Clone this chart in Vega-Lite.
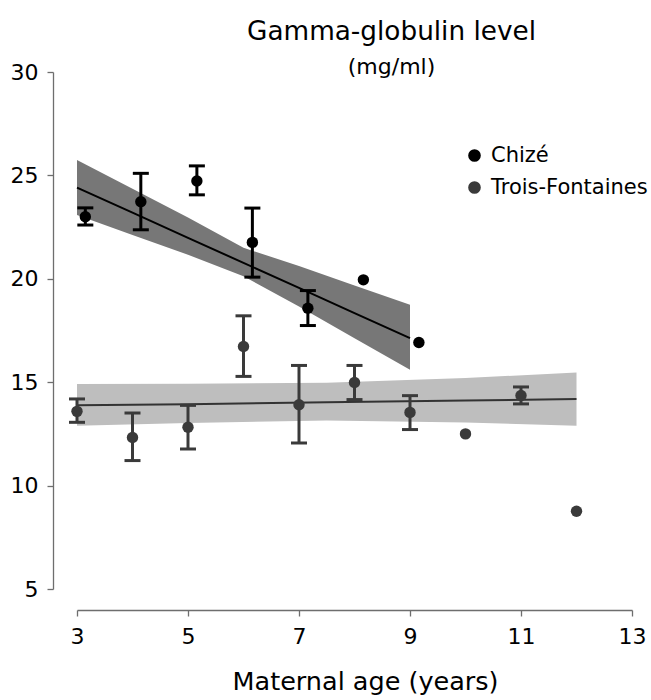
{
  "$schema": "https://vega.github.io/schema/vega-lite/v6.json",
  "width": 555,
  "height": 517,
  "autosize": {"type": "none"},
  "padding": {"left": 77, "top": 72, "right": 19, "bottom": 111},
  "background": "white",
  "config": {
    "font": "DejaVu Sans",
    "view": {"stroke": null},
    "axis": {"grid": false, "domainColor": "#6e6e6e", "tickColor": "#6e6e6e", "labelColor": "#000000", "titleColor": "#000000", "labelFontSize": 22, "domainWidth": 1.3, "tickWidth": 1.3}
  },
  "title": {
    "text": "Gamma-globulin level",
    "subtitle": "(mg/ml)",
    "fontSize": 26.3,
    "fontWeight": "normal",
    "subtitleFontSize": 22,
    "color": "#000000",
    "subtitleColor": "#000000",
    "anchor": "middle",
    "frame": "group",
    "dx": 37,
    "offset": -17,
    "subtitlePadding": 12
  },
  "datasets": {
    "pts": [
      {"site": "Chizé", "age": 3.15, "mean": 23.0, "lo": 22.6, "hi": 23.43},
      {"site": "Chizé", "age": 4.15, "mean": 23.73, "lo": 22.37, "hi": 25.1},
      {"site": "Chizé", "age": 5.16, "mean": 24.73, "lo": 24.06, "hi": 25.46},
      {"site": "Chizé", "age": 6.16, "mean": 21.76, "lo": 20.08, "hi": 23.42},
      {"site": "Chizé", "age": 7.16, "mean": 18.58, "lo": 17.74, "hi": 19.43},
      {"site": "Chizé", "age": 8.16, "mean": 19.95, "lo": null, "hi": null},
      {"site": "Chizé", "age": 9.16, "mean": 16.92, "lo": null, "hi": null},
      {"site": "Trois-Fontaines", "age": 3.0, "mean": 13.59, "lo": 13.06, "hi": 14.19},
      {"site": "Trois-Fontaines", "age": 4.0, "mean": 12.33, "lo": 11.21, "hi": 13.51},
      {"site": "Trois-Fontaines", "age": 5.0, "mean": 12.82, "lo": 11.77, "hi": 13.88},
      {"site": "Trois-Fontaines", "age": 6.0, "mean": 16.73, "lo": 15.28, "hi": 18.21},
      {"site": "Trois-Fontaines", "age": 7.0, "mean": 13.91, "lo": 12.06, "hi": 15.81},
      {"site": "Trois-Fontaines", "age": 8.0, "mean": 14.99, "lo": 14.16, "hi": 15.81},
      {"site": "Trois-Fontaines", "age": 9.0, "mean": 13.54, "lo": 12.71, "hi": 14.35},
      {"site": "Trois-Fontaines", "age": 10.0, "mean": 12.5, "lo": null, "hi": null},
      {"site": "Trois-Fontaines", "age": 11.0, "mean": 14.36, "lo": 13.95, "hi": 14.77},
      {"site": "Trois-Fontaines", "age": 12.0, "mean": 8.76, "lo": null, "hi": null}
    ],
    "fit": [
      {"site": "Chizé", "age": 3, "fit": 24.41, "lower": 23.09, "upper": 25.75},
      {"site": "Chizé", "age": 4, "fit": 23.2, "lower": 22.12, "upper": 24.35},
      {"site": "Chizé", "age": 5, "fit": 21.98, "lower": 21.16, "upper": 22.96},
      {"site": "Chizé", "age": 6, "fit": 20.77, "lower": 20.12, "upper": 21.5},
      {"site": "Chizé", "age": 7, "fit": 19.56, "lower": 18.66, "upper": 20.62},
      {"site": "Chizé", "age": 8, "fit": 18.34, "lower": 17.13, "upper": 19.68},
      {"site": "Chizé", "age": 9, "fit": 17.13, "lower": 15.6, "upper": 18.74},
      {"site": "Trois-Fontaines", "age": 3, "fit": 13.88, "lower": 12.9, "upper": 14.91},
      {"site": "Trois-Fontaines", "age": 5, "fit": 13.93, "lower": 13.03, "upper": 14.93},
      {"site": "Trois-Fontaines", "age": 7.5, "fit": 14.03, "lower": 13.15, "upper": 14.97},
      {"site": "Trois-Fontaines", "age": 10, "fit": 14.11, "lower": 13.05, "upper": 15.2},
      {"site": "Trois-Fontaines", "age": 12, "fit": 14.19, "lower": 12.9, "upper": 15.47}
    ]
  },
  "encoding": {
    "x": {
      "field": "age", "type": "quantitative",
      "scale": {"domain": [3, 13], "nice": false, "zero": false},
      "axis": {"values": [3, 5, 7, 9, 11, 13], "offset": 21, "tickSize": 6, "labelPadding": 10, "labelFlush": false, "labelOverlap": false, "labelBound": false, "title": "Maternal age (years)", "titleFontSize": 25.5, "titleFontWeight": "normal", "titlePadding": 22, "titleX": 288, "titleAlign": "center"}
    }
  },
  "layer": [
    {
      "data": {"name": "fit"},
      "transform": [{"filter": "datum.site === 'Trois-Fontaines'"}],
      "mark": {"type": "area", "color": "#bebebe", "opacity": 1},
      "encoding": {
        "y": {"field": "lower", "type": "quantitative", "scale": {"domain": [5, 30], "nice": false, "zero": false}, "axis": {"values": [5, 10, 15, 20, 25, 30], "offset": 24, "tickSize": 6, "labelPadding": 9, "title": null}},
        "y2": {"field": "upper"}
      }
    },
    {
      "data": {"name": "fit"},
      "transform": [{"filter": "datum.site === 'Chizé'"}],
      "mark": {"type": "area", "color": "#777777", "opacity": 1},
      "encoding": {
        "y": {"field": "lower", "type": "quantitative"},
        "y2": {"field": "upper"}
      }
    },
    {
      "data": {"name": "fit"},
      "transform": [{"filter": "datum.site === 'Trois-Fontaines'"}],
      "mark": {"type": "line", "color": "#333333", "strokeWidth": 2},
      "encoding": {"y": {"field": "fit", "type": "quantitative"}}
    },
    {
      "data": {"name": "fit"},
      "transform": [{"filter": "datum.site === 'Chizé'"}],
      "mark": {"type": "line", "color": "#000000", "strokeWidth": 2},
      "encoding": {"y": {"field": "fit", "type": "quantitative"}}
    },
    {
      "data": {"name": "pts"},
      "transform": [{"filter": "datum.lo != null && datum.site === 'Trois-Fontaines'"}],
      "mark": {"type": "rule", "strokeWidth": 3, "color": "#3a3a3a"},
      "encoding": {
        "y": {"field": "lo", "type": "quantitative"},
        "y2": {"field": "hi"}
      }
    },
    {
      "data": {"name": "pts"},
      "transform": [{"filter": "datum.lo != null && datum.site === 'Trois-Fontaines'"}],
      "mark": {"type": "tick", "orient": "horizontal", "size": 16, "thickness": 3, "opacity": 1, "color": "#3a3a3a"},
      "encoding": {"y": {"field": "lo", "type": "quantitative"}}
    },
    {
      "data": {"name": "pts"},
      "transform": [{"filter": "datum.lo != null && datum.site === 'Trois-Fontaines'"}],
      "mark": {"type": "tick", "orient": "horizontal", "size": 16, "thickness": 3, "opacity": 1, "color": "#3a3a3a"},
      "encoding": {"y": {"field": "hi", "type": "quantitative"}}
    },
    {
      "data": {"name": "pts"},
      "transform": [{"filter": "datum.lo != null && datum.site === 'Chizé'"}],
      "mark": {"type": "rule", "strokeWidth": 3, "color": "#000000"},
      "encoding": {
        "y": {"field": "lo", "type": "quantitative"},
        "y2": {"field": "hi"}
      }
    },
    {
      "data": {"name": "pts"},
      "transform": [{"filter": "datum.lo != null && datum.site === 'Chizé'"}],
      "mark": {"type": "tick", "orient": "horizontal", "size": 16, "thickness": 3, "opacity": 1, "color": "#000000"},
      "encoding": {"y": {"field": "lo", "type": "quantitative"}}
    },
    {
      "data": {"name": "pts"},
      "transform": [{"filter": "datum.lo != null && datum.site === 'Chizé'"}],
      "mark": {"type": "tick", "orient": "horizontal", "size": 16, "thickness": 3, "opacity": 1, "color": "#000000"},
      "encoding": {"y": {"field": "hi", "type": "quantitative"}}
    },
    {
      "data": {"name": "pts"},
      "mark": {"type": "circle", "size": 130, "opacity": 1},
      "encoding": {
        "y": {"field": "mean", "type": "quantitative"},
        "color": {
          "field": "site", "type": "nominal",
          "scale": {"domain": ["Chizé", "Trois-Fontaines"], "range": ["#000000", "#3a3a3a"]},
          "legend": {"title": null, "orient": "none", "legendX": 387, "legendY": 73, "padding": 0, "symbolSize": 160, "symbolType": "circle", "labelFontSize": 21, "labelColor": "#000000", "labelOffset": 6, "rowPadding": 10, "symbolOpacity": 1}
        }
      }
    }
  ]
}
